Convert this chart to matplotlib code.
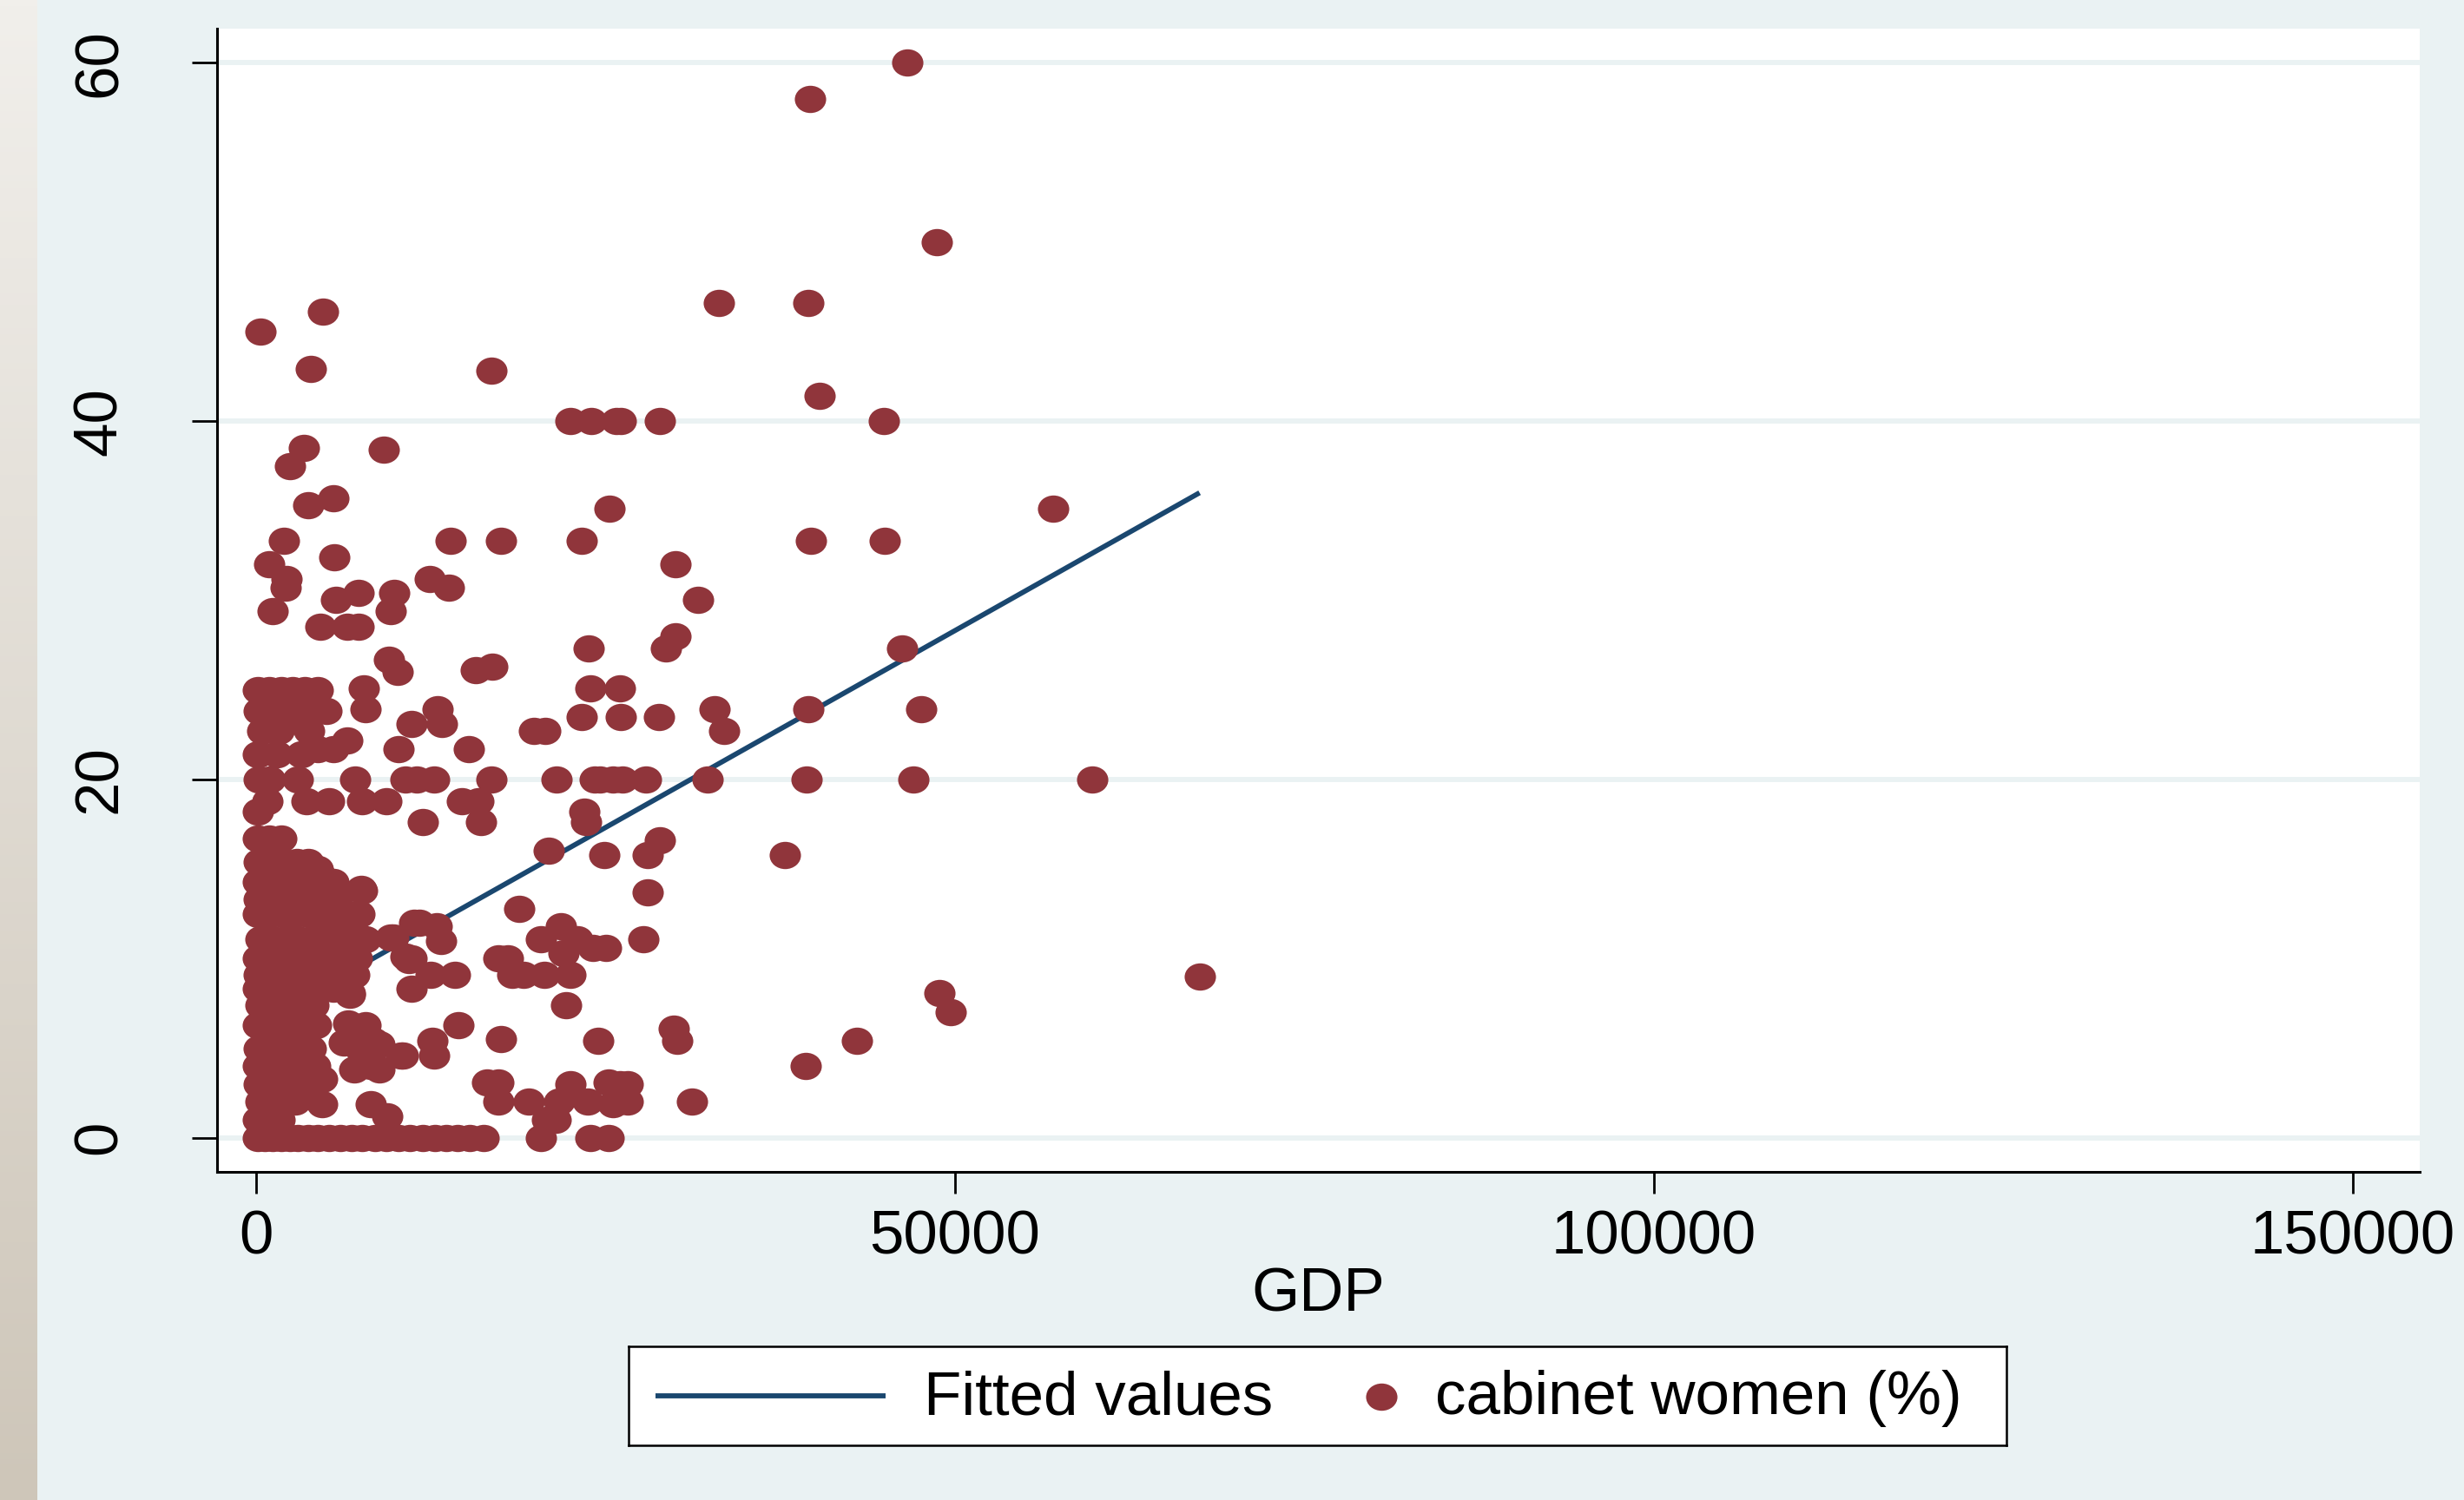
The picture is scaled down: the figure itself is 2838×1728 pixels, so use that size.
import numpy as np
import matplotlib.pyplot as plt
from matplotlib.path import Path
from matplotlib.colors import LinearSegmentedColormap

plt.rcParams['font.family'] = ['Liberation Sans', 'DejaVu Sans']

# GDP per country (x) and share of women in cabinet (y)
gdp = [
    100, 600, 1200, 1800, 2400, 3000, 3700, 4400, 5200, 6000, 6800, 7600, 8500,
    9300, 10200, 11000, 11900, 12800, 13600, 14400, 15300, 16300, 20400, 23900, 25200,
    100, 900, 1700, 9400, 20800,
    300, 1100, 2000, 2800, 4700, 8200, 17300, 19500, 21700, 23700, 26600, 31200,
    200, 1000, 1900, 2700, 3500, 16500, 17300, 22500, 26000, 26600,
    100, 800, 1600, 2500, 3300, 4200, 8200, 10500, 12700, 39300,
    200, 1200, 2100, 3000, 3900, 6300, 7500, 8800, 12600, 17500, 24500, 30100, 43000,
    100, 900, 1800, 2700, 3600, 4300, 6600, 7300, 14500, 29900,
    300, 1400, 2300, 3200, 4100, 22200, 49700,
    100, 1000, 1900, 2800, 3700, 4600, 5500, 6700, 11100, 48900,
    200, 1200, 2200, 3100, 4000, 5000, 6000, 7000, 12500, 14200, 18300, 19100, 20600, 22500, 67500,
    100, 900, 1800, 2600, 3500, 4400, 5300, 6300, 7200, 10900, 11100, 17300, 18000,
    300, 1200, 2100, 3000, 4000, 5000, 6000, 7000, 7800, 9800, 13200, 20400, 21800, 22000,
    23000, 24100, 25000, 27700,
    100, 1000, 1900, 2800, 3700, 4600, 5600, 6500, 7400, 11700, 12900, 18800,
    200, 1100, 2000, 2900, 3800, 4700, 5800, 7600, 28000,
    100, 900, 1800, 2700, 3600, 4500, 5500,
    200, 1100, 2000, 2900, 3700, 4400, 20900, 24900, 28000, 28900, 37800,
    100, 900, 1800, 11900, 16100, 23600,
    100, 800, 3600, 5200, 7600, 9300, 14700, 15900, 23500,
    200, 1000, 3000, 7100, 10700, 11500, 12700, 16800, 21500, 24200, 24600, 25500, 26200,
    27900, 32300, 39400, 47000, 59800,
    100, 1500, 3200, 4400, 5500, 6500, 10200, 15200, 19900, 20700, 33500,
    400, 1600, 2500, 3800, 11100, 13300, 23300, 26100, 28800,
    200, 1200, 2100, 3000, 4000, 5000, 7800, 13000, 32800, 39500, 47600,
    100, 900, 1800, 2600, 3500, 4400, 7700, 23900, 26000,
    9500, 10100, 15700, 16900, 23800, 46200, 29300, 30000, 4600, 6500, 7300,
    1200, 9600, 5700, 31600, 7300, 9900, 2100, 13800, 2200, 12400,
    900, 5600, 30000, 2000, 13900, 17500, 23300, 39700, 45000,
    25300, 57000, 3700, 5500, 2400, 3400, 9100,
    22500, 24000, 25800, 26100, 28900, 44900, 40300, 16800, 3900,
    300, 4800, 33100, 39500, 48700, 39600, 46600,
    25500, 21400, 25200, 7800, 8400, 7000, 8800, 10400, 4700, 6700, 7500,
    9600, 11300, 10700,
]
cabinet_women = [
    0, 0, 0, 0, 0, 0, 0, 0, 0, 0, 0, 0, 0,
    0, 0, 0, 0, 0, 0, 0, 0, 0, 0, 0, 0,
    1, 1, 1, 1.2, 1,
    2, 2, 2, 2, 1.9, 1.9, 2, 2, 2, 2, 2, 2,
    3, 3, 3, 3, 3, 3.1, 3.1, 3, 3, 3,
    4, 4, 4, 4, 4, 4, 4, 4.6, 4.6, 4,
    5, 5, 5, 5, 5, 5.3, 4.9, 5.2, 5.4, 5.5, 5.4, 5.4, 5.4,
    6.3, 6.3, 6.3, 6.3, 6.3, 6.3, 6.4, 6.1, 6.3, 6.1,
    7.4, 7.4, 7.7, 7.1, 7.4, 7.4, 7.0,
    8.3, 8.3, 8.3, 8.3, 8.3, 8.3, 8.3, 8.0, 8.3, 8.1,
    9.1, 9.1, 9.1, 9.1, 9.1, 9.1, 9.1, 9.1, 9.1, 9.1, 9.1, 9.1, 9.1, 9.1, 9.0,
    10, 10, 10, 10, 10, 10, 10, 10, 10, 9.9, 10, 10, 10,
    11.1, 11.1, 11.1, 11.1, 11.1, 11.1, 11.1, 11.1, 11.1, 11.2, 11.0, 11.1, 11.8, 10.3,
    11.1, 10.6, 10.6, 11.1,
    12.5, 12.5, 12.5, 12.5, 12.5, 12.5, 12.5, 12.5, 12.5, 12.0, 11.8, 12.8,
    13.3, 13.3, 13.3, 13.3, 13.3, 13.3, 13.3, 13.8, 13.7,
    14.3, 14.3, 14.3, 14.3, 14.3, 14.7, 14.3,
    15.4, 15.4, 15.4, 15.4, 15.4, 15.0, 16.0, 15.8, 15.8, 16.6, 15.8,
    16.7, 16.7, 16.7, 17.6, 17.6, 17.6,
    18.2, 18.8, 18.8, 18.8, 18.8, 18.8, 18.8, 18.8, 18.2,
    20, 20, 20, 20, 20, 20, 20, 20, 20, 20, 20, 20, 20,
    20, 20, 20, 20, 20,
    21.4, 21.4, 21.4, 21.7, 21.7, 22.2, 21.7, 21.7, 22.7, 22.7, 22.7,
    22.7, 22.7, 23.3, 22.7, 23.1, 23.1, 23.5, 23.5, 23.5,
    23.8, 23.8, 23.8, 23.8, 23.8, 23.8, 23.9, 23.9, 23.9, 23.9, 23.9,
    25, 25, 25, 25, 25, 25, 25.1, 25.1, 25.1,
    26.7, 26.0, 26.1, 26.3, 27.3, 27.3, 27.3, 28.0, 28.5, 28.5, 28.5,
    29.4, 29.4, 30.0, 30.0, 30.4, 30.4, 30.7, 30.7, 31.2, 31.2,
    32.0, 32.4, 32.0, 33.3, 33.3, 33.3, 33.3, 33.3, 33.3,
    35.1, 35.1, 35.3, 35.7, 37.5, 38.5, 38.4,
    40, 40, 40, 40, 40, 40, 41.4, 42.8, 42.9,
    45, 46.1, 46.6, 46.6, 50, 58, 60,
    1.9, 1.0, 3.1, 6.3, 5.4, 3.8, 3.8, 4.6, 3.3, 8.1, 13.9,
    11.2, 12.0, 10.1,
]
assert len(gdp) == len(cabinet_women)

# linear fit as drawn in the chart (end points)
fit_gdp = [150, 67500]
fit_values = [6.4, 36.0]

x_ticks = [0, 50000, 100000, 150000]
y_ticks = [0, 20, 40, 60]
legend_labels = ['Fitted values', 'cabinet women (%)']

bg = '#EAF2F3'
dot_color = '#90353B'
line_color = '#1A476F'
fs = 51

W, H = 2838, 1728
fig = plt.figure(figsize=(W / 100, H / 100), dpi=100, facecolor=bg)

# beige strip down the left edge
strip = fig.add_axes([0, 0, 43 / W, 1])
grad = np.linspace(0, 1, 256).reshape(-1, 1)
cmap = LinearSegmentedColormap.from_list('strip', ['#F1EFEB', '#CEC6B9'])
strip.imshow(grad, aspect='auto', cmap=cmap)
strip.axis('off')

ax = fig.add_axes([250 / W, 1 - 1350 / H, (2787 - 250) / W, (1350 - 33) / H])
ax.set_facecolor('white')

ellipse = Path(Path.unit_circle().vertices * [1.0, 0.87], Path.unit_circle().codes)

ax.plot(fit_gdp, fit_values, color=line_color, linewidth=4.2,
        solid_capstyle='butt', zorder=2)
ax.plot(gdp, cabinet_women, linestyle='none', marker=ellipse, markersize=26,
        color=dot_color, markeredgewidth=0, zorder=3)

ax.set_xlim(-2800, 154800)
ax.set_ylim(-1.9, 61.9)
ax.set_xticks(x_ticks)
ax.set_xticklabels([str(t) for t in x_ticks])
ax.set_yticks(y_ticks)
ax.set_yticklabels([str(t) for t in y_ticks], rotation=90, va='center')
ax.yaxis.grid(True, color=bg, linewidth=4.3)
ax.set_axisbelow(True)
for side in ['top', 'right']:
    ax.spines[side].set_visible(False)
for side in ['left', 'bottom']:
    ax.spines[side].set_linewidth(2.2)
ax.tick_params(axis='both', labelsize=fs, width=2.0, colors='black')
ax.tick_params(axis='y', length=21, pad=52)
ax.tick_params(axis='x', length=18, pad=13)
ax.set_xlabel('GDP', fontsize=fs, labelpad=0)

# legend box
lg = fig.add_axes([724 / W, 1 - 1665 / H, (2311 - 724) / W, (1665 - 1551) / H])
lg.set_xlim(724, 2311)
lg.set_ylim(1665, 1551)
lg.set_xticks([])
lg.set_yticks([])
lg.set_facecolor('white')
for s in lg.spines.values():
    s.set_linewidth(1.8)
lg.plot([755, 1020], [1608, 1608], color=line_color, linewidth=4.2,
        solid_capstyle='butt')
lg.plot([1591], [1609], linestyle='none', marker=ellipse, markersize=26,
        color=dot_color, markeredgewidth=0)
lg.text(1064, 1629, legend_labels[0], fontsize=fs, va='baseline', ha='left')
lg.text(1653, 1629, legend_labels[1], fontsize=fs, va='baseline', ha='left')

fig.savefig('out.png', dpi=100, facecolor=bg)
